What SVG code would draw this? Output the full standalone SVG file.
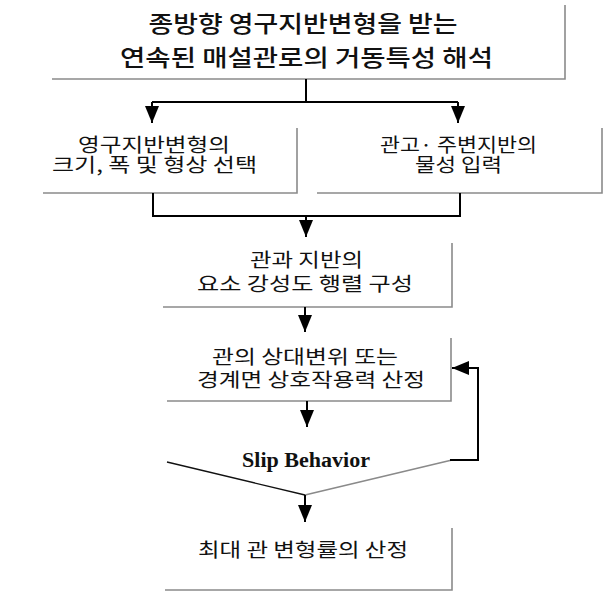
<svg xmlns="http://www.w3.org/2000/svg" width="608" height="595" viewBox="0 0 608 595">
<style>
.edge{fill:none;stroke:#8a8a8a;stroke-width:1.6}
.kr{font-family:"Noto Sans CJK KR","Noto Sans",sans-serif;font-size:19px;fill:#111;text-anchor:middle}
.title{font-size:23px;font-weight:500}
.conn{fill:none;stroke:#000;stroke-width:2}
.slip{font-family:"Liberation Serif","Times New Roman",serif;font-weight:bold;font-size:20px;fill:#111;text-anchor:middle}
</style>
<defs>
<marker id="arr" viewBox="0 0 17 14" refX="17" refY="7" markerWidth="17" markerHeight="14" markerUnits="userSpaceOnUse" orient="auto">
<path d="M0,0 L17,7 L0,14 z" fill="#000"/>
</marker>
</defs>
<rect width="608" height="595" fill="#fff"/>
<g id="n-title">
<path class="edge" d="M52,79 H565 V5"/>
<text class="kr title" x="303" y="32" textLength="309" lengthAdjust="spacingAndGlyphs">종방향 영구지반변형을 받는</text>
<text class="kr title" x="306.5" y="66" textLength="373" lengthAdjust="spacingAndGlyphs">연속된 매설관로의 거동특성 해석</text>
</g>
<g id="n-shape">
<path class="edge" d="M43,193 H297 V128"/>
<text class="kr" x="154" y="152" textLength="152" lengthAdjust="spacingAndGlyphs">영구지반변형의</text>
<text class="kr" x="154.5" y="172" textLength="205" lengthAdjust="spacingAndGlyphs">크기, 폭 및 형상 선택</text>
</g>
<g id="n-props">
<path class="edge" d="M317,193 H602 V128"/>
<text class="kr" x="458.5" y="152" textLength="157" lengthAdjust="spacingAndGlyphs">관고· 주변지반의</text>
<text class="kr" x="458.5" y="172" textLength="87" lengthAdjust="spacingAndGlyphs">물성 입력</text>
</g>
<g id="n-stiff">
<path class="edge" d="M163,307 H452 V243"/>
<text class="kr" x="306.5" y="267" textLength="113" lengthAdjust="spacingAndGlyphs">관과 지반의</text>
<text class="kr" x="305" y="291" textLength="216" lengthAdjust="spacingAndGlyphs">요소 강성도 행렬 구성</text>
</g>
<g id="n-disp">
<path class="edge" d="M167,401 H451 V338"/>
<text class="kr" x="305" y="364" textLength="186" lengthAdjust="spacingAndGlyphs">관의 상대변위 또는</text>
<text class="kr" x="311" y="387" textLength="228" lengthAdjust="spacingAndGlyphs">경계면 상호작용력 산정</text>
</g>
<g id="n-slip">
<path d="M167,462 L305,495" fill="none" stroke="#111" stroke-width="1.3"/>
<path d="M305,495 L452,460" fill="none" stroke="#8a8a8a" stroke-width="1.6"/>
<text class="slip" x="306" y="467" textLength="128" lengthAdjust="spacingAndGlyphs">Slip Behavior</text>
</g>
<g id="n-max">
<path class="edge" d="M165,590 H452 V528"/>
<text class="kr" x="303" y="557" textLength="210" lengthAdjust="spacingAndGlyphs">최대 관 변형률의 산정</text>
</g>
<g id="connectors">
<path class="conn" d="M306,79 V102 M152,102 H458"/>
<path class="conn" d="M152,102 V123" marker-end="url(#arr)"/>
<path class="conn" d="M458,102 V123" marker-end="url(#arr)"/>
<path class="conn" d="M153,193 V216 H460 V193"/>
<path class="conn" d="M306,216 V237" marker-end="url(#arr)"/>
<path class="conn" d="M305,307 V332" marker-end="url(#arr)"/>
<path class="conn" d="M307,401 V427" marker-end="url(#arr)"/>
<path class="conn" d="M305,495 V522" marker-end="url(#arr)"/>
<path class="conn" stroke-width="2.5" d="M450,460 H478 V368 H452" marker-end="url(#arr)"/>
</g>
</svg>
